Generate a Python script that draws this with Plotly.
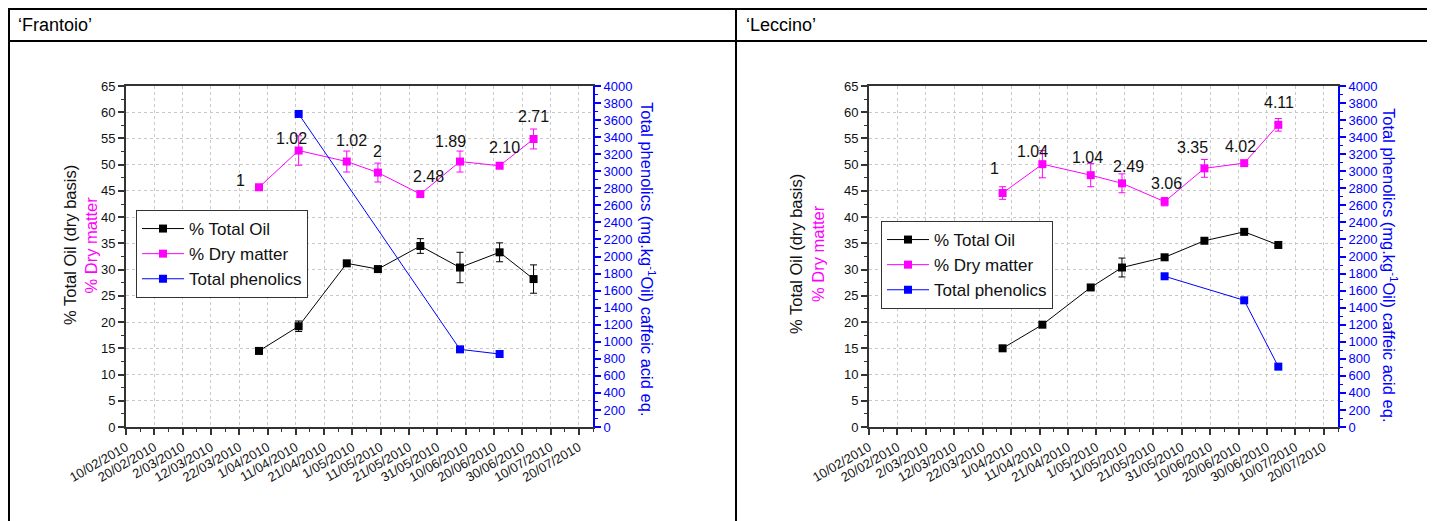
import plotly.graph_objects as go

# ---------------- data ----------------
dates = ["2010-03-29", "2010-04-12", "2010-04-29", "2010-05-10",
         "2010-05-25", "2010-06-08", "2010-06-22", "2010-07-04"]

fr_oil = [14.5, 19.2, 31.2, 30.1, 34.5, 30.4, 33.3, 28.2]
fr_oil_err = [0.4, 1.0, 0.5, 0.5, 1.4, 2.9, 1.8, 2.7]
fr_dry = [45.7, 52.7, 50.6, 48.5, 44.4, 50.6, 49.8, 54.9]
fr_dry_err = [0.4, 2.8, 2.0, 1.8, 0.3, 2.0, 0.4, 1.9]
fr_phen_dates = ["2010-04-12", "2010-06-08", "2010-06-22"]
fr_phen = [3672, 911, 856]
fr_labels = ["1", "1.02", "1.02", "2", "2.48", "1.89", "2.10", "2.71"]

le_oil = [15.0, 19.5, 26.6, 30.4, 32.35, 35.5, 37.2, 34.7]
le_oil_err = [0.3, 0.5, 0.3, 1.8, 0.3, 0.3, 0.3, 0.3]
le_dry = [44.6, 50.1, 48.0, 46.45, 42.95, 49.3, 50.3, 57.6]
le_dry_err = [1.2, 2.6, 2.2, 1.8, 0.8, 1.7, 0.4, 1.2]
le_phen_dates = ["2010-05-25", "2010-06-22", "2010-07-04"]
le_phen = [1768, 1486, 708]
le_labels = ["1", "1.04", "1.04", "2.49", "3.06", "3.35", "4.02", "4.11"]

x_tickvals = ["2010-02-10", "2010-02-20", "2010-03-02", "2010-03-12", "2010-03-22",
              "2010-04-01", "2010-04-11", "2010-04-21", "2010-05-01", "2010-05-11",
              "2010-05-21", "2010-05-31", "2010-06-10", "2010-06-20", "2010-06-30",
              "2010-07-10", "2010-07-20"]
x_ticktext = ["10/02/2010", "20/02/2010", "2/03/2010", "12/03/2010", "22/03/2010",
              "1/04/2010", "11/04/2010", "21/04/2010", "1/05/2010", "11/05/2010",
              "21/05/2010", "31/05/2010", "10/06/2010", "20/06/2010", "30/06/2010",
              "10/07/2010", "20/07/2010"]
x_range = ["2010-02-10", "2010-07-25"]

panel_titles = ["\u2018Frantoio\u2019", "\u2018Leccino\u2019"]
series_names = ["% Total Oil", "% Dry matter", "Total phenolics"]
left_title_1 = "% Total Oil (dry basis)"
left_title_2 = "% Dry matter"
right_title = "Total phenolics (mg.kg<sup>-1</sup>Oil) caffeic acid eq."

# label offsets (pixels) relative to the dry matter points
fr_label_dx = [-19, -7, 5, 0, 8, -9, 5, 0]
fr_label_dy = [7, 12, 21, 21, 18, 20, 18, 22]
le_label_dx = [-8, -10, -3, 7, 2, -12, -4, 1]
le_label_dy = [25, 13, 18, 17, 18, 21, 17, 22]

# ---------------- layout geometry ----------------
PAGE_OFF = 8                      # default page margin around the figure
W, H = 1435 - PAGE_OFF, 521 - PAGE_OFF
BLACK = "#000000"
PINK = "#ff00ff"
BLUE = "#0000ff"
AX = "#333333"
FONT = "Liberation Sans, Arial, sans-serif"


def px_x(p):
    return (p - PAGE_OFF) / W


def px_y(p):
    return (H - (p - PAGE_OFF)) / H


fig = go.Figure()


def add_panel(idx, oil, oil_err, dry, dry_err, phen_dates, phen, labels, ldx, ldy,
              px_left, px_right, legend_name, legend_pos,
              t1x, t2x, tly, trx, try_):
    xa = "x" if idx == 0 else "x2"
    ya_l = "y" if idx == 0 else "y3"
    ya_r = "y2" if idx == 0 else "y4"
    fig.add_trace(go.Scatter(
        x=dates, y=oil, name=series_names[0], mode="lines+markers",
        line=dict(color=BLACK, width=1),
        marker=dict(symbol="square", size=8, color=BLACK),
        error_y=dict(type="data", array=oil_err, color=BLACK, thickness=1, width=3.5),
        xaxis=xa, yaxis=ya_l, legend=legend_name))
    fig.add_trace(go.Scatter(
        x=dates, y=dry, name=series_names[1], mode="lines+markers",
        line=dict(color=PINK, width=1),
        marker=dict(symbol="square", size=8, color=PINK),
        error_y=dict(type="data", array=dry_err, color=PINK, thickness=1, width=3.5),
        xaxis=xa, yaxis=ya_l, legend=legend_name))
    fig.add_trace(go.Scatter(
        x=phen_dates, y=phen, name=series_names[2], mode="lines+markers",
        line=dict(color=BLUE, width=1),
        marker=dict(symbol="square", size=8, color=BLUE),
        xaxis=xa, yaxis=ya_r, legend=legend_name))

    for d, v, t, dx, dy in zip(dates, dry, labels, ldx, ldy):
        fig.add_annotation(x=d, y=v, xref=xa, yref=ya_l, text=t, showarrow=False,
                           xshift=dx, yshift=dy, xanchor="center", yanchor="middle",
                           font=dict(family=FONT, size=16, color="#111111"))

    dom_x = [px_x(px_left), px_x(px_right)]
    dom_y = [px_y(427), px_y(86)]
    xname = "xaxis" if idx == 0 else "xaxis2"
    yl = "yaxis" if idx == 0 else "yaxis3"
    yr = "yaxis2" if idx == 0 else "yaxis4"
    xtop = "xaxis3" if idx == 0 else "xaxis4"
    fig.layout[xname] = dict(
        domain=dom_x, anchor=ya_l, range=x_range, type="date", automargin=False,
        tickmode="array", tickvals=x_tickvals, ticktext=x_ticktext,
        tickangle=-30, ticks="outside", ticklen=6, tickwidth=1.5, tickcolor=AX,
        showline=True, linecolor=AX, linewidth=2, mirror=True,
        showgrid=True, gridcolor="#c8c8c8", griddash="dot", gridwidth=1,
        tickfont=dict(family=FONT, size=13, color="#111111"),
        minor=dict(tickmode="linear", tick0="2010-02-10", dtick=5 * 86400000,
                   ticks="outside", ticklen=3, tickwidth=1, tickcolor=AX, showgrid=False),
        zeroline=False)
    fig.layout[xtop] = dict(
        overlaying=xa, side="top", anchor=ya_l, range=x_range, type="date",
        automargin=False,
        tickmode="array", tickvals=x_tickvals, showticklabels=False,
        ticks="inside", ticklen=5, tickwidth=1.5, tickcolor=AX,
        minor=dict(tickmode="linear", tick0="2010-02-10", dtick=5 * 86400000,
                   ticks="inside", ticklen=3, tickwidth=1, tickcolor=AX, showgrid=False),
        showgrid=False, showline=False, zeroline=False)
    fig.layout[yl] = dict(
        domain=dom_y, anchor=xa, range=[0, 65], tickmode="linear", tick0=0, dtick=5,
        automargin=False,
        ticks="outside", ticklen=6, tickwidth=1.5, tickcolor=AX,
        showline=True, linecolor=AX, linewidth=2,
        showgrid=True, gridcolor="#c8c8c8", griddash="dot", gridwidth=1,
        tickfont=dict(family=FONT, size=13, color="#111111"),
        minor=dict(tickmode="linear", tick0=0, dtick=2.5, ticks="outside", ticklen=3,
                   tickwidth=1, tickcolor=AX, showgrid=False),
        zeroline=False)
    fig.layout[yr] = dict(
        overlaying=ya_l, side="right", anchor=xa, range=[0, 4000],
        automargin=False,
        tickmode="linear", tick0=0, dtick=200,
        ticks="outside", ticklen=6, tickwidth=1.5, tickcolor=BLUE,
        showline=True, linecolor=BLUE, linewidth=2, showgrid=False,
        tickfont=dict(family=FONT, size=13, color=BLUE),
        minor=dict(tickmode="linear", tick0=0, dtick=100, ticks="outside", ticklen=3,
                   tickwidth=1, tickcolor=BLUE, showgrid=False),
        zeroline=False)

    fig.layout[legend_name] = dict(
        x=px_x(legend_pos[0]), y=px_y(legend_pos[1]), xanchor="left", yanchor="top",
        bordercolor=AX, borderwidth=1, bgcolor="white",
        font=dict(family=FONT, size=17, color="#111111"),
        tracegroupgap=0, itemwidth=42)

    # axis titles
    fig.add_annotation(x=px_x(t1x), y=px_y(tly), xref="paper", yref="paper",
                       text=left_title_1, textangle=-90, showarrow=False,
                       xanchor="center", yanchor="middle",
                       font=dict(family=FONT, size=16.5, color="#111111"))
    fig.add_annotation(x=px_x(t2x), y=px_y(tly), xref="paper", yref="paper",
                       text=left_title_2, textangle=-90, showarrow=False,
                       xanchor="center", yanchor="middle",
                       font=dict(family=FONT, size=16.5, color=PINK))
    fig.add_annotation(x=px_x(trx), y=px_y(try_), xref="paper", yref="paper",
                       text=right_title, textangle=90, showarrow=False,
                       xanchor="center", yanchor="middle",
                       font=dict(family=FONT, size=16.5, color=BLUE))


add_panel(0, fr_oil, fr_oil_err, fr_dry, fr_dry_err, fr_phen_dates, fr_phen, fr_labels,
          fr_label_dx, fr_label_dy, 126, 593, "legend", (136, 210),
          70, 90.5, 245, 648, 259)
add_panel(1, le_oil, le_oil_err, le_dry, le_dry_err, le_phen_dates, le_phen, le_labels,
          le_label_dx, le_label_dy, 869, 1338, "legend2", (881, 221),
          796, 818, 254, 1390, 265)

# panel titles
fig.add_annotation(x=px_x(16), y=px_y(25), xref="paper", yref="paper",
                   text=panel_titles[0], showarrow=False, xanchor="left", yanchor="middle",
                   font=dict(family=FONT, size=18, color="#000000"))
fig.add_annotation(x=px_x(744), y=px_y(25), xref="paper", yref="paper",
                   text=panel_titles[1], showarrow=False, xanchor="left", yanchor="middle",
                   font=dict(family=FONT, size=18, color="#000000"))

# table borders
border = dict(color="#000000", width=2)
fig.add_shape(type="line", xref="paper", yref="paper", x0=px_x(8), x1=1, y0=px_y(9), y1=px_y(9), line=border)
fig.add_shape(type="line", xref="paper", yref="paper", x0=px_x(8), x1=1, y0=px_y(41), y1=px_y(41), line=border)
fig.add_shape(type="line", xref="paper", yref="paper", x0=px_x(9), x1=px_x(9), y0=0, y1=px_y(9), line=border)
fig.add_shape(type="line", xref="paper", yref="paper", x0=px_x(736), x1=px_x(736), y0=0, y1=px_y(9), line=border)

fig.update_layout(
    width=W, height=H, margin=dict(l=0, r=0, t=0, b=0, autoexpand=False),
    paper_bgcolor="white", plot_bgcolor="white",
    font=dict(family=FONT, color="#111111"),
)

fig.write_html("out.html")
